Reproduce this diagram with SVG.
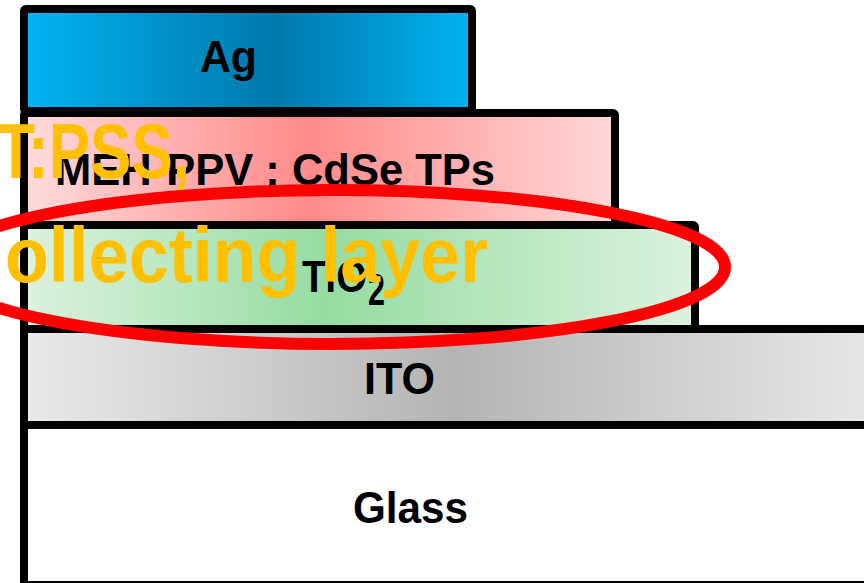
<svg xmlns="http://www.w3.org/2000/svg" width="864" height="583" viewBox="0 0 864 583">
  <defs>
    <linearGradient id="gAg" x1="0" y1="0" x2="1" y2="0">
      <stop offset="0" stop-color="#00B4F2"/>
      <stop offset="0.56" stop-color="#0078AA"/>
      <stop offset="1" stop-color="#00B4F2"/>
    </linearGradient>
    <linearGradient id="gMeh" x1="0" y1="0" x2="1" y2="0">
      <stop offset="0" stop-color="#FFDCDC"/>
      <stop offset="0.48" stop-color="#FF8A8A"/>
      <stop offset="1" stop-color="#FFD8D8"/>
    </linearGradient>
    <linearGradient id="gTi" x1="0" y1="0" x2="1" y2="0">
      <stop offset="0" stop-color="#DDF2DF"/>
      <stop offset="0.45" stop-color="#96DCA2"/>
      <stop offset="1" stop-color="#DDF2DF"/>
    </linearGradient>
    <linearGradient id="gIto" x1="0" y1="0" x2="1" y2="0">
      <stop offset="0" stop-color="#EAEAEA"/>
      <stop offset="0.5" stop-color="#B4B4B4"/>
      <stop offset="1" stop-color="#EAEAEA"/>
    </linearGradient>
  </defs>
  <style>
    .layer { stroke: #000; stroke-width: 8; stroke-linejoin: round; }
    .lbl { font-family: "Liberation Sans", Arial, sans-serif; font-weight: bold; font-size: 45px; fill: #000; }
    .note { font-family: "Liberation Sans", Arial, sans-serif; font-weight: bold; font-size: 77px; fill: #FFC000; }
  </style>
  <rect width="864" height="583" fill="#fff"/>
  <g id="glass">
    <rect class="layer" x="24" y="425" width="860" height="160" fill="#fff"/>
    <text class="lbl" x="353" y="523" textLength="115" lengthAdjust="spacingAndGlyphs">Glass</text>
  </g>
  <g id="ito">
    <rect class="layer" x="24" y="329" width="860" height="96" fill="url(#gIto)"/>
    <text class="lbl" x="364" y="394" textLength="71" lengthAdjust="spacingAndGlyphs">ITO</text>
  </g>
  <g id="tio2">
    <rect class="layer" x="24" y="225" width="671" height="104" rx="2" fill="url(#gTi)"/>
    <text class="lbl" x="302" y="292" font-size="42" textLength="65" lengthAdjust="spacingAndGlyphs">TiO</text>
    <text class="lbl" x="368" y="305" font-size="30" textLength="17" lengthAdjust="spacingAndGlyphs">2</text>
  </g>
  <g id="mehppv">
    <rect class="layer" x="24" y="113" width="591" height="112" rx="2" fill="url(#gMeh)"/>
    <text class="lbl" x="55" y="185" textLength="440" lengthAdjust="spacingAndGlyphs">MEH-PPV : CdSe TPs</text>
  </g>
  <g id="ag">
    <rect class="layer" x="24" y="9" width="448" height="102" rx="2" fill="url(#gAg)"/>
    <text class="lbl" x="200" y="72" textLength="57" lengthAdjust="spacingAndGlyphs">Ag</text>
  </g>
  <g id="connectors">
    <ellipse cx="332" cy="267" rx="393" ry="77" fill="none" stroke="#FF0000" stroke-width="12"/>
  </g>
  <g id="annotation">
    <text class="note" x="-3" y="178" textLength="193" lengthAdjust="spacingAndGlyphs">T:PSS,</text>
    <text class="note" x="5" y="282" textLength="483" lengthAdjust="spacingAndGlyphs">ollecting layer</text>
  </g>
</svg>
